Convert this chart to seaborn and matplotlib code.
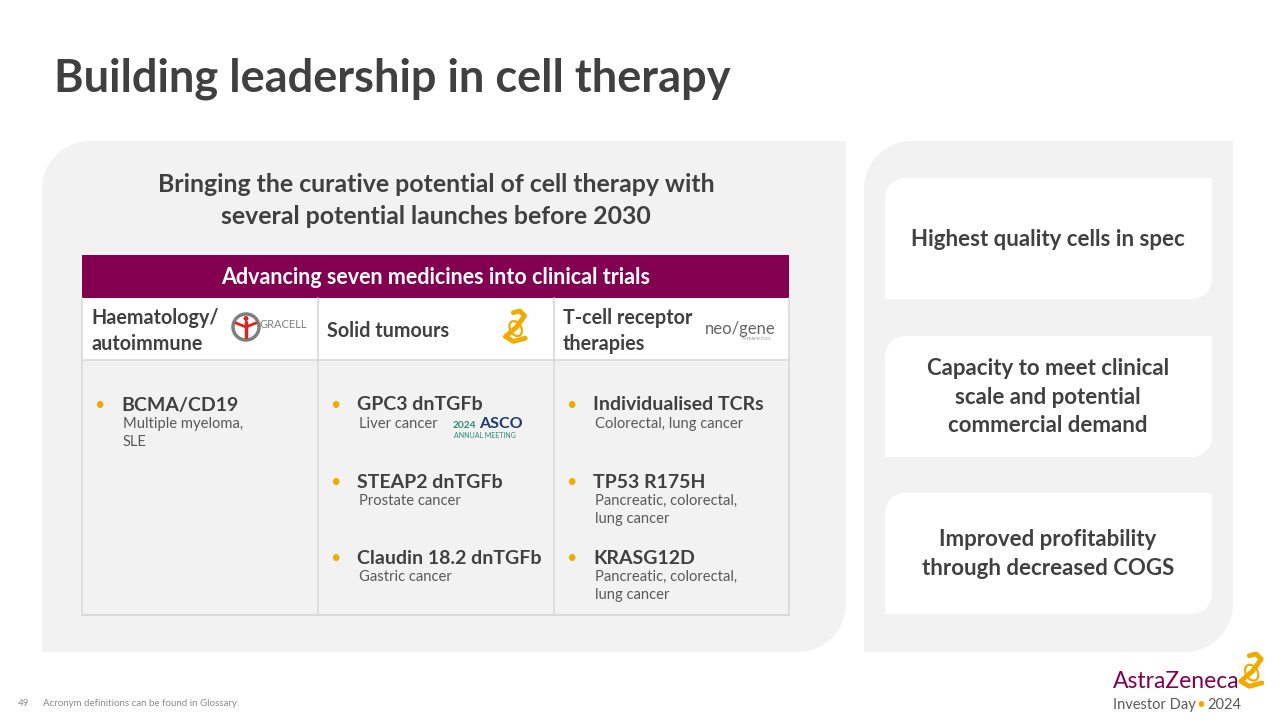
import seaborn as sns
import matplotlib.pyplot as plt
import numpy as np
from matplotlib.patches import Polygon, Rectangle, Circle, Ellipse

# Slide text content
title = "Building leadership in cell therapy"
subtitle = ["Bringing the curative potential of cell therapy with",
            "several potential launches before 2030"]
table_header = "Advancing seven medicines into clinical trials"
column_titles = [["Haematology/", "autoimmune"], ["Solid tumours"], ["T-cell receptor", "therapies"]]
medicines = [
    [("BCMA/CD19", ["Multiple myeloma,", "SLE"])],
    [("GPC3 dnTGFb", ["Liver cancer"]),
     ("STEAP2 dnTGFb", ["Prostate cancer"]),
     ("Claudin 18.2 dnTGFb", ["Gastric cancer"])],
    [("Individualised TCRs", ["Colorectal, lung cancer"]),
     ("TP53 R175H", ["Pancreatic, colorectal,", "lung cancer"]),
     ("KRASG12D", ["Pancreatic, colorectal,", "lung cancer"])],
]
benefits = [["Highest quality cells in spec"],
            ["Capacity to meet clinical", "scale and potential", "commercial demand"],
            ["Improved profitability", "through decreased COGS"]]
footnote = "Acronym definitions can be found in Glossary."
page_number = "49"

# Colours
DARK = "#404040"
SUB = "#595959"
PANEL = "#F2F2F2"
PURPLE = "#830051"
GOLD = "#F0AB00"
LINE = "#D9D9D9"

sns.set_theme(style="white")
plt.rcParams["font.family"] = ["Lato", "DejaVu Sans"]


def rounded_box(x0, y0, x1, y1, r):
    # top-left and bottom-right corners rounded, y axis points down
    t = np.linspace(0, np.pi / 2, 20)
    tl = np.column_stack([x0 + r - r * np.cos(t), y0 + r - r * np.sin(t)])
    br = np.column_stack([x1 - r + r * np.cos(t), y1 - r + r * np.sin(t)])
    pts = np.vstack([tl, [[x1, y0]], br, [[x0, y1]]])
    return pts


fig = plt.figure(figsize=(12.8, 7.2), dpi=100)
ax = fig.add_axes([0, 0, 1, 1])
ax.set_xlim(0, 1280)
ax.set_ylim(720, 0)
ax.axis("off")

# Title
ax.text(54, 79, title, fontsize=32.5, fontweight="bold", color=DARK, va="center")

# Panels
ax.add_patch(Polygon(rounded_box(42, 141, 846, 652, 48), closed=True, fc=PANEL, ec="none"))
ax.add_patch(Polygon(rounded_box(864, 141, 1233, 652, 48), closed=True, fc=PANEL, ec="none"))
box_tops = [178, 336, 493]
for top, lines in zip(box_tops, benefits):
    ax.add_patch(Polygon(rounded_box(885, top, 1212, top + 121, 20), closed=True, fc="white", ec="none"))
    cy = top + 61
    n = len(lines)
    for i, line in enumerate(lines):
        ax.text(1048, cy + (i - (n - 1) / 2) * 28.5, line, fontsize=16, fontweight="bold",
                color=DARK, ha="center", va="center")

# Subtitle
for i, line in enumerate(subtitle):
    ax.text(436, 185 + i * 31, line, fontsize=17.9, fontweight="bold", color=DARK, ha="center", va="center")

# Table
col_x = [82, 318, 554, 789]
ax.add_patch(Rectangle((82, 255), 707, 43, fc=PURPLE, ec="none"))
ax.text(436, 277, table_header, fontsize=15.5, fontweight="bold", color="white", ha="center", va="center")
ax.add_patch(Rectangle((82, 298), 707, 62, fc="white", ec="none"))
ax.add_patch(Rectangle((82, 360), 707, 255, fc=PANEL, ec="none"))
for x in col_x:
    ax.plot([x, x], [298, 615], color=LINE, lw=1.2)
ax.plot([82, 789], [360, 360], color=LINE, lw=1.2)
ax.plot([82, 789], [615, 615], color=LINE, lw=1.5)

for c, lines in enumerate(column_titles):
    x = col_x[c] + 9
    n = len(lines)
    for i, line in enumerate(lines):
        ax.text(x, 331 + (i - (n - 1) / 2) * 25, line, fontsize=14.2, fontweight="bold",
                color=DARK, va="center")

item_y = [405, 482, 558]
for c, items in enumerate(medicines):
    x = col_x[c]
    for r, (name, notes) in enumerate(items):
        y = item_y[r]
        ax.text(x + 12, y, "\u2022", fontsize=13, color=GOLD, va="center")
        ax.text(x + 39, y, name, fontsize=14, fontweight="bold", color=DARK, va="center")
        for k, note in enumerate(notes):
            ax.text(x + 41, y + 19 + k * 17.5, note, fontsize=10.6, color=SUB, va="center")

# Logo stand-ins: Gracell
ax.add_patch(Circle((246, 327), 13, fc="none", ec="#7F7F7F", lw=2.5))
ax.plot([246, 246], [322, 337], color="#D7261E", lw=2.5, solid_capstyle="round")
ax.plot([236, 246, 256], [323, 327, 323], color="#D7261E", lw=2)
ax.add_patch(Circle((246, 318.5), 2.5, fc="#D7261E", ec="none"))
ax.text(259, 325, "GRACELL", fontsize=8, color="#7F7F7F", va="center")


# AstraZeneca symbol
def az_symbol(cx, cy, s):
    px = np.array([-0.05, 0.15, 0.3, 0.05, -0.3, -0.05, 0.32])
    py = np.array([-0.45, -0.5, -0.35, 0.0, 0.3, 0.45, 0.35])
    ax.plot(cx + px * s, cy + py * s, color=GOLD, lw=3.5, solid_joinstyle="round", solid_capstyle="round")
    ax.add_patch(Ellipse((cx + 0.02 * s, cy + 0.05 * s), 0.35 * s, 0.5 * s, angle=-30,
                         fc="none", ec=GOLD, lw=1.6))

az_symbol(515, 327, 32)

# neogene
ax.text(740, 329, "neo/gene", fontsize=12, color="#666666", ha="center", va="center")
ax.text(757, 339, "THERAPEUTICS", fontsize=3, color="#8F8F8F", ha="center", va="center")

# ASCO
ax.text(453, 425, "2024", fontsize=7.3, fontweight="bold", color="#2E8B74", va="center")
ax.text(479, 424, "ASCO", fontsize=11.5, fontweight="bold", color="#1F3A6E", va="center")
ax.text(454, 435, "ANNUAL MEETING", fontsize=5, color="#2E8B74", va="center")

# Footer
ax.text(18, 703, page_number, fontsize=7, color="#8C8C8C", va="center")
ax.text(43, 703, footnote, fontsize=7, color="#8C8C8C", va="center")
ax.text(1113, 682, "AstraZeneca", fontsize=16.5, color=PURPLE, va="center")
ax.text(1113, 705, "Investor Day", fontsize=10.5, color=SUB, va="center")
ax.text(1196, 705, "\u2022", fontsize=11, color=GOLD, va="center")
ax.text(1207, 705, "2024", fontsize=10.5, color=SUB, va="center")
az_symbol(1251, 671, 34)

fig.savefig("out.png", dpi=100)
